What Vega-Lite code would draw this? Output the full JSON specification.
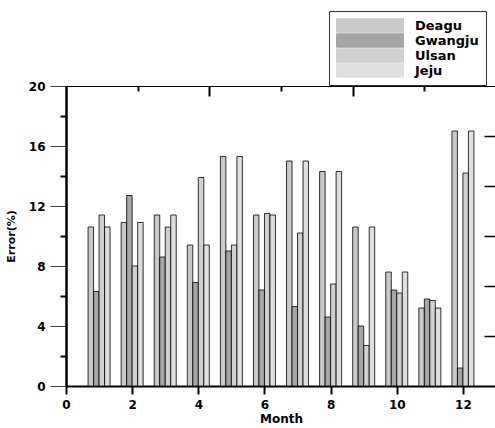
{
  "$schema": "https://vega.github.io/schema/vega-lite/v6.json",
  "width": 430,
  "height": 300,
  "autosize": {"type": "none"},
  "padding": {"left": 66, "top": 86, "right": 0, "bottom": 42},
  "background": "white",
  "config": {
    "view": {"stroke": null},
    "font": "DejaVu Sans",
    "axis": {"grid": false, "labelFont": "DejaVu Sans", "titleFont": "DejaVu Sans", "labelColor": "black", "titleColor": "black"},
    "legend": {"labelFont": "DejaVu Sans", "symbolStrokeColor": "black", "symbolStrokeWidth": 1}
  },
  "data": {
    "values": [
      {"month": 1, "city": "Deagu", "error": 10.6}, {"month": 1, "city": "Gwangju", "error": 6.3}, {"month": 1, "city": "Ulsan", "error": 11.4}, {"month": 1, "city": "Jeju", "error": 10.6},
      {"month": 2, "city": "Deagu", "error": 10.9}, {"month": 2, "city": "Gwangju", "error": 12.7}, {"month": 2, "city": "Ulsan", "error": 8.0}, {"month": 2, "city": "Jeju", "error": 10.9},
      {"month": 3, "city": "Deagu", "error": 11.4}, {"month": 3, "city": "Gwangju", "error": 8.6}, {"month": 3, "city": "Ulsan", "error": 10.6}, {"month": 3, "city": "Jeju", "error": 11.4},
      {"month": 4, "city": "Deagu", "error": 9.4}, {"month": 4, "city": "Gwangju", "error": 6.9}, {"month": 4, "city": "Ulsan", "error": 13.9}, {"month": 4, "city": "Jeju", "error": 9.4},
      {"month": 5, "city": "Deagu", "error": 15.3}, {"month": 5, "city": "Gwangju", "error": 9.0}, {"month": 5, "city": "Ulsan", "error": 9.4}, {"month": 5, "city": "Jeju", "error": 15.3},
      {"month": 6, "city": "Deagu", "error": 11.4}, {"month": 6, "city": "Gwangju", "error": 6.4}, {"month": 6, "city": "Ulsan", "error": 11.5}, {"month": 6, "city": "Jeju", "error": 11.4},
      {"month": 7, "city": "Deagu", "error": 15.0}, {"month": 7, "city": "Gwangju", "error": 5.3}, {"month": 7, "city": "Ulsan", "error": 10.2}, {"month": 7, "city": "Jeju", "error": 15.0},
      {"month": 8, "city": "Deagu", "error": 14.3}, {"month": 8, "city": "Gwangju", "error": 4.6}, {"month": 8, "city": "Ulsan", "error": 6.8}, {"month": 8, "city": "Jeju", "error": 14.3},
      {"month": 9, "city": "Deagu", "error": 10.6}, {"month": 9, "city": "Gwangju", "error": 4.0}, {"month": 9, "city": "Ulsan", "error": 2.7}, {"month": 9, "city": "Jeju", "error": 10.6},
      {"month": 10, "city": "Deagu", "error": 7.6}, {"month": 10, "city": "Gwangju", "error": 6.4}, {"month": 10, "city": "Ulsan", "error": 6.2}, {"month": 10, "city": "Jeju", "error": 7.6},
      {"month": 11, "city": "Deagu", "error": 5.2}, {"month": 11, "city": "Gwangju", "error": 5.8}, {"month": 11, "city": "Ulsan", "error": 5.7}, {"month": 11, "city": "Jeju", "error": 5.2},
      {"month": 12, "city": "Deagu", "error": 17.0}, {"month": 12, "city": "Gwangju", "error": 1.2}, {"month": 12, "city": "Ulsan", "error": 14.2}, {"month": 12, "city": "Jeju", "error": 17.0}
    ]
  },
  "resolve": {"axis": {"x": "independent", "y": "independent"}},
  "encoding": {
    "x": {"field": "month", "type": "quantitative", "scale": {"domain": [0, 13], "nice": false, "zero": false, "padding": 0}, "axis": null},
    "y": {"field": "error", "type": "quantitative", "scale": {"domain": [0, 20], "nice": false}, "stack": null, "axis": null},
    "color": {
      "field": "city", "type": "nominal",
      "scale": {"domain": ["Deagu", "Gwangju", "Ulsan", "Jeju"], "range": ["#c9c9c9", "#a6a6a6", "#d0d0d0", "#dedede"]},
      "legend": {
        "title": null, "orient": "none", "legendX": 263, "legendY": -75,
        "symbolType": "M-1,-0.2H1V0.2H-1Z", "symbolSize": 4489,
        "symbolStrokeColor": "black", "symbolStrokeWidth": 1, "symbolOpacity": 1,
        "labelFontSize": 13, "labelFontWeight": "bold", "labelColor": "black", "labelOffset": 11,
        "padding": 7, "strokeColor": "#333333", "fillColor": "white",
        "clipHeight": 15, "rowPadding": 0
      }
    }
  },
  "layer": [
    {
      "transform": [{"filter": "datum.city === 'Deagu'"}],
      "mark": {"type": "bar", "width": 5.5, "xOffset": -8.25, "stroke": "black", "strokeWidth": 0.8},
      "encoding": {
        "x": {
          "field": "month", "type": "quantitative",
          "axis": {
            "orient": "bottom", "values": [0, 2, 4, 6, 8, 10, 12], "title": "Month",
            "domainWidth": 2, "domainColor": "black", "tickColor": "black", "tickWidth": 2, "tickSize": 8,
            "labelFontWeight": "bold", "labelFontSize": 12, "labelPadding": 5, "labelFlush": false,
            "titleFontSize": 12, "titleFontWeight": "bold", "titlePadding": 3
          }
        },
        "y": {
          "field": "error", "type": "quantitative", "stack": null,
          "axis": {
            "orient": "left", "values": [0, 2, 4, 6, 8, 10, 12, 14, 16, 18, 20],
            "labelExpr": "datum.value % 4 === 0 ? datum.label : ''",
            "title": "Error(%)",
            "domainWidth": 2.5, "domainColor": "black",
            "tickColor": {"condition": {"test": "datum.value % 4 === 0", "value": "#444444"}, "value": "black"},
            "tickWidth": {"condition": {"test": "datum.value % 4 === 0", "value": 1}, "value": 2},
            "tickSize": {"condition": {"test": "datum.value % 4 === 0", "value": 16}, "value": 6},
            "labelFontWeight": "bold", "labelFontSize": 12, "labelPadding": 5,
            "titleFontSize": 11, "titleFontWeight": "bold", "titlePadding": 12
          }
        }
      }
    },
    {
      "transform": [{"filter": "datum.city === 'Gwangju'"}],
      "mark": {"type": "bar", "width": 5.5, "xOffset": -2.75, "stroke": "black", "strokeWidth": 0.8}
    },
    {
      "transform": [{"filter": "datum.city === 'Ulsan'"}],
      "mark": {"type": "bar", "width": 5.5, "xOffset": 2.75, "stroke": "black", "strokeWidth": 0.8}
    },
    {
      "transform": [{"filter": "datum.city === 'Jeju'"}],
      "mark": {"type": "bar", "width": 5.5, "xOffset": 8.25, "stroke": "black", "strokeWidth": 0.8}
    },
    {
      "mark": {"type": "point", "opacity": 0},
      "encoding": {
        "color": {"field": "city", "type": "nominal", "legend": null},
        "x": {
          "field": "month", "type": "quantitative",
          "axis": {
            "orient": "top", "values": [2.18, 4.32, 6.5, 8.68, 10.82], "labels": false, "title": null,
            "domainWidth": 1, "domainColor": "black", "tickColor": "black", "tickWidth": 2,
            "tickSize": {"condition": {"test": "(datum.value > 4 && datum.value < 5) || (datum.value > 8 && datum.value < 9)", "value": -10}, "value": -5}
          }
        },
        "y": {
          "field": "error", "type": "quantitative", "stack": null,
          "axis": {
            "orient": "right", "values": [3.333, 6.667, 10, 13.333, 16.667], "labels": false, "title": null,
            "domain": false, "tickColor": "black", "tickWidth": 1.5, "tickSize": -12
          }
        }
      }
    }
  ]
}
